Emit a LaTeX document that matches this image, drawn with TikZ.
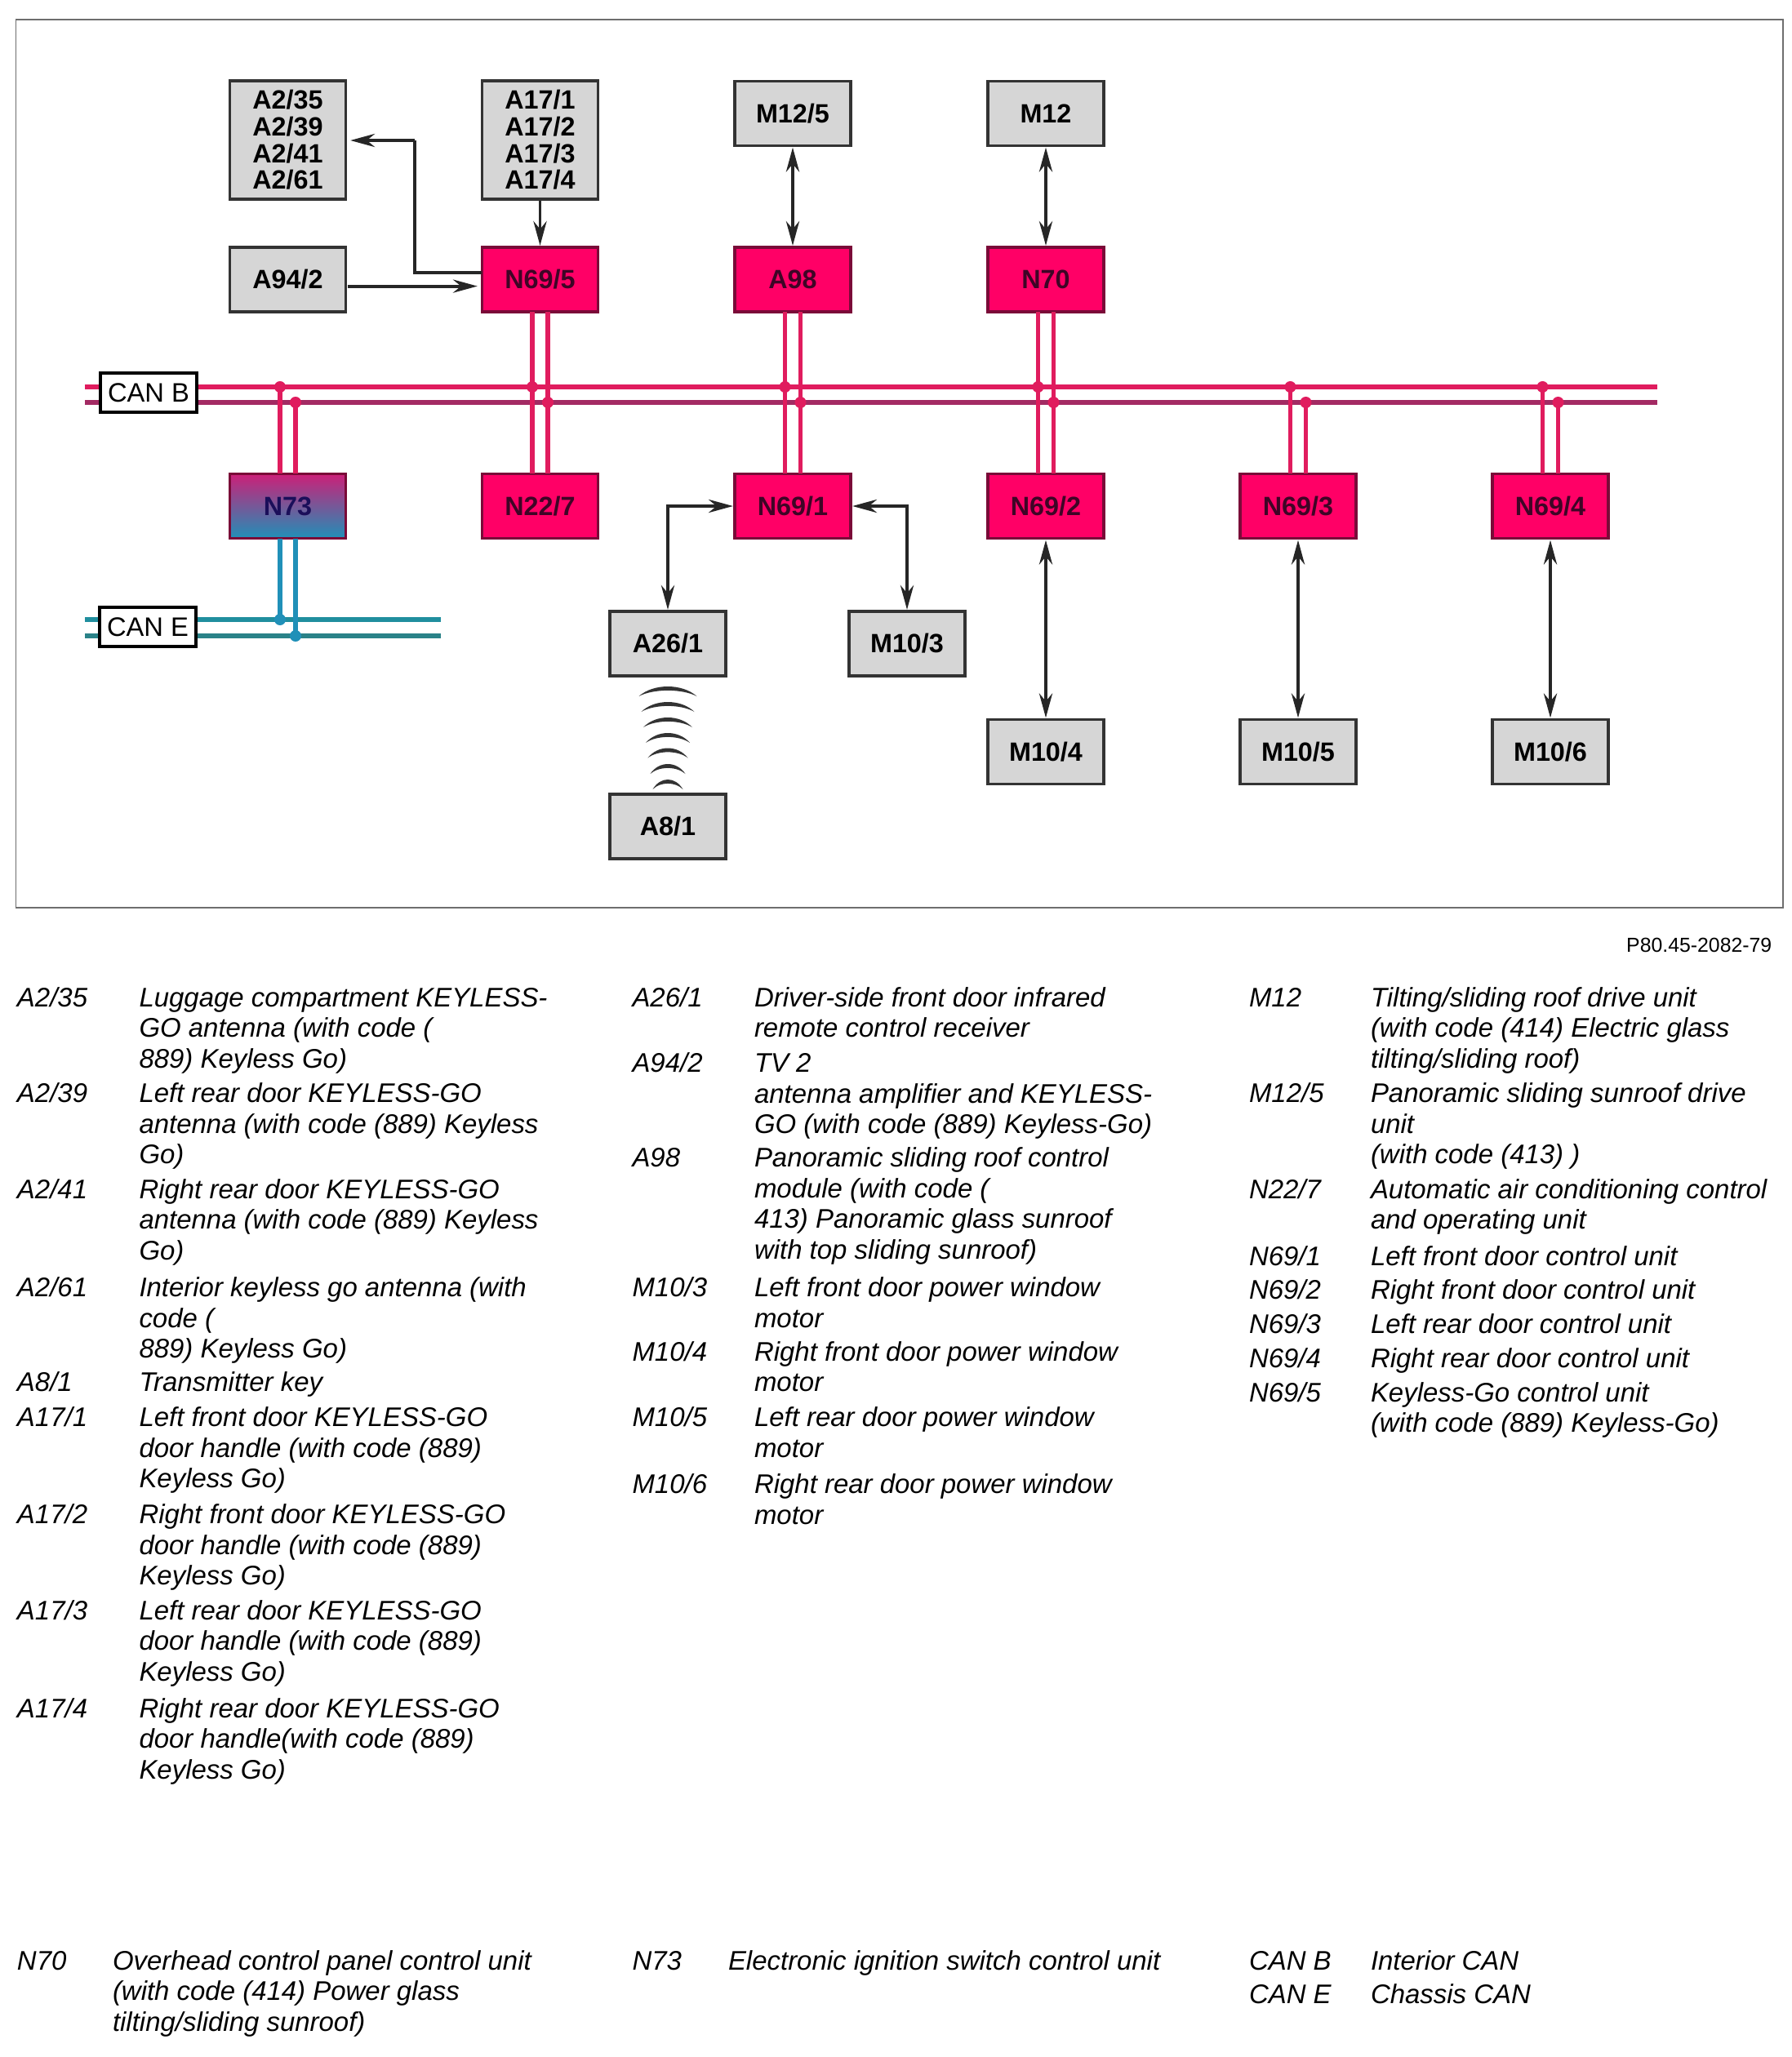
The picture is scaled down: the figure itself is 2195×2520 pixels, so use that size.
\documentclass[tikz,border=0pt]{standalone}
\usepackage{fontspec}
\usepackage{tikz}
\usetikzlibrary{arrows.meta,positioning}
\setmainfont{Liberation Sans}
\definecolor{framegray}{HTML}{6E6E6E}
\definecolor{boxgray}{HTML}{D6D6D6}
\definecolor{boxline}{HTML}{333333}
\definecolor{unitred}{HTML}{FF0066}
\definecolor{unitline}{HTML}{7A0A38}
\definecolor{unittext}{HTML}{3E0526}
\definecolor{canbone}{HTML}{E01C5E}
\definecolor{canbtwo}{HTML}{A32A63}
\definecolor{canetop}{HTML}{CC2078}
\definecolor{canedrop}{HTML}{2090B8}
\definecolor{caneone}{HTML}{208E9E}
\definecolor{canetwo}{HTML}{2A8288}
\definecolor{navytext}{HTML}{1B0F5A}
\newcommand{\wireoff}{2.7pt}
% key x, text x, first baseline, name, key, text
\newcommand{\legrow}[6]{%
  \node[legtext] (#4key) at (#1,#3) {\strut #5};
  \node[legtext] (#4txt) at (#2,#3) {\strut #6};
}
\tikzset{
  unitbox/.style={draw, line width=1.1pt, minimum width=142*0.2845pt, minimum height=79*0.2845pt,
    inner sep=0pt, outer sep=0pt, font=\fontsize{9.2}{9.3}\selectfont\bfseries, align=center},
  graybox/.style={unitbox, draw=boxline, fill=boxgray, text=black},
  tallbox/.style={graybox, minimum height=145*0.2845pt},
  redbox/.style={unitbox, draw=unitline, fill=unitred, text=unittext},
  canlabel/.style={draw=black, fill=white, line width=1pt, minimum width=118*0.2845pt, minimum height=48*0.2845pt,
    inner sep=0pt, outer sep=0pt, font=\fontsize{9.3}{10}\selectfont},
  sigline/.style={draw=black!85, line width=1.1pt, >={Stealth[length=8.5pt,width=4.6pt]}, shorten >=0.6pt, shorten <=0.6pt},
  canbwire/.style={draw=canbone, line width=1.5pt},
  legtext/.style={anchor=north west, inner sep=0pt, outer sep=0pt, yshift=7.47pt, align=left,
    font=\fontsize{9.37}{10.7}\selectfont\itshape},
}

\begin{document}
\begin{tikzpicture}[x=0.01cm, y=-0.01cm]
  \useasboundingbox (0,0) rectangle (2195,2520);
  \draw[framegray, line width=0.5pt] (19.5,24) rectangle (2184,1112);

  % buses
  \coordinate (canbwa) at (104,474);
  \coordinate (canbea) at (2030,474);
  \coordinate (canbwb) at (104,493);
  \coordinate (canbeb) at (2030,493);
  \coordinate (canewa) at (104,759);
  \coordinate (caneea) at (540,759);
  \coordinate (canewb) at (104,779);
  \coordinate (caneeb) at (540,779);
  \draw[canbone, line width=1.5pt] (canbwa) -- (canbea);
  \draw[canbtwo, line width=1.9pt] (canbwb) -- (canbeb);
  \draw[caneone, line width=1.5pt] (canewa) -- (caneea);
  \draw[canetwo, line width=1.9pt] (canewb) -- (caneeb);
  \node[canlabel] (canb) at (182,481) {CAN B};
  \node[canlabel] (cane) at (181,768) {CAN E};

  % grey units
  \node[tallbox] (a2) at (352.5,171.5) {A2/35\\A2/39\\A2/41\\A2/61};
  \node[tallbox] (a17) at (661.5,171.5) {A17/1\\A17/2\\A17/3\\A17/4};
  \node[graybox] (m125) at (971,139) {M12/5};
  \node[graybox] (m12) at (1281,139) {M12};
  \node[graybox] (a942) at (352.5,342.5) {A94/2};
  \node[graybox] (a261) at (818,788.5) {A26/1};
  \node[graybox] (m103) at (1111,788.5) {M10/3};
  \node[graybox] (m104) at (1281,921) {M10/4};
  \node[graybox] (m105) at (1590,921) {M10/5};
  \node[graybox] (m106) at (1899,921) {M10/6};
  \node[graybox] (a81) at (818,1012.5) {A8/1};

  % red units
  \node[redbox] (n695) at (661.5,342.5) {N69/5};
  \node[redbox] (a98) at (971,342.5) {A98};
  \node[redbox] (n70) at (1281,342.5) {N70};
  \node[redbox] (n227) at (661.5,620) {N22/7};
  \node[redbox] (n691) at (971,620) {N69/1};
  \node[redbox] (n692) at (1281,620) {N69/2};
  \node[redbox] (n693) at (1590,620) {N69/3};
  \node[redbox] (n694) at (1899,620) {N69/4};
  \node[unitbox, draw=unitline, top color=canetop, bottom color=canedrop, text=navytext] (n73) at (352.5,620) {N73};

  % wires to the buses
  \foreach \upper/\lower in {n695/n227, a98/n691, n70/n692} {
    \draw[canbwire] ([xshift=-\wireoff]\upper.south) -- ([xshift=-\wireoff]\lower.north);
    \draw[canbwire] ([xshift=\wireoff]\upper.south) -- ([xshift=\wireoff]\lower.north);
  }
  \foreach \unit in {n73, n693, n694} {
    \draw[canbwire] ([xshift=-\wireoff]\unit.north) -- ([xshift=-\wireoff]\unit.north |- canbwa);
    \draw[canbwire] ([xshift=\wireoff]\unit.north) -- ([xshift=\wireoff]\unit.north |- canbwb);
  }
  \foreach \unit in {n73, n695, a98, n70, n693, n694} {
    \fill[canbone] ([xshift=-\wireoff]\unit.north |- canbwa) circle (2pt);
    \fill[canbone] ([xshift=\wireoff]\unit.north |- canbwb) circle (2pt);
  }
  \draw[canedrop, line width=1.5pt] ([xshift=-\wireoff]n73.south) -- ([xshift=-\wireoff]n73.south |- canewa);
  \draw[canedrop, line width=1.5pt] ([xshift=\wireoff]n73.south) -- ([xshift=\wireoff]n73.south |- canewb);
  \fill[canedrop] ([xshift=-\wireoff]n73.south |- canewa) circle (2pt);
  \fill[canedrop] ([xshift=\wireoff]n73.south |- canewb) circle (2pt);

  % signal arrows
  \coordinate (a2knee) at (508,172);
  \draw[sigline,->] (a17) -- (n695);
  \draw[sigline, shorten <=0pt, shorten >=0pt] ([yshift=2.4pt]n695.west) -| (a2knee);
  \draw[sigline,->, shorten >=1.6pt, shorten <=0pt] (a2knee) -- (a2knee -| a2.east);
  \draw[sigline,->, shorten >=1.6pt] ([yshift=-2.3pt]a942.east) -- ([yshift=-2.3pt]n695.west);
  \draw[sigline,<->] (m125) -- (a98);
  \draw[sigline,<->] (m12) -- (n70);
  \draw[sigline,<->] (n691.west) -| (a261.north);
  \draw[sigline,<->] (n691.east) -| (m103.north);
  \draw[sigline,<->] (n692) -- (m104);
  \draw[sigline,<->] (n693) -- (m105);
  \draw[sigline,<->] (n694) -- (m106);

  % radio link
  \foreach \top/\w in {841/71, 860/65, 879/60, 898/54, 916.5/49, 936/43, 955/37} {
    \fill[black!80] ({818-\w/2},{\top+12}) .. controls ({818-\w/4},{\top-4}) and ({818+\w/4},{\top-4}) .. ({818+\w/2},{\top+12})
      .. controls ({818+\w/4},{\top+2.5}) and ({818-\w/4},{\top+2.5}) .. cycle;
  }

  \node[anchor=east, inner sep=0pt, font=\fontsize{7.06}{8}\selectfont] (figno) at (2171,1158) {P80.45-2082-79};

  % legend
  \legrow{21}{170.5}{1233}{la235}{A2/35}{Luggage compartment KEYLESS-\\GO antenna (with code (\\889) Keyless Go)}
  \legrow{21}{170.5}{1350.5}{la239}{A2/39}{Left rear door KEYLESS-GO\\antenna (with code (889) Keyless\\Go)}
  \legrow{21}{170.5}{1468}{la241}{A2/41}{Right rear door KEYLESS-GO\\antenna (with code (889) Keyless\\Go)}
  \legrow{21}{170.5}{1588.5}{la261}{A2/61}{Interior keyless go antenna (with\\code (\\889) Keyless Go)}
  \legrow{21}{170.5}{1704}{la81}{A8/1}{Transmitter key}
  \legrow{21}{170.5}{1747.5}{la171}{A17/1}{Left front door KEYLESS-GO\\door handle (with code (889)\\Keyless Go)}
  \legrow{21}{170.5}{1866.5}{la172}{A17/2}{Right front door KEYLESS-GO\\door handle (with code (889)\\Keyless Go)}
  \legrow{21}{170.5}{1984}{la173}{A17/3}{Left rear door KEYLESS-GO\\door handle (with code (889)\\Keyless Go)}
  \legrow{21}{170.5}{2104}{la174}{A17/4}{Right rear door KEYLESS-GO\\door handle(with code (889)\\Keyless Go)}

  \legrow{774.5}{924}{1233}{la261b}{A26/1}{Driver-side front door infrared\\remote control receiver}
  \legrow{774.5}{924}{1313.5}{la942}{A94/2}{TV 2\\antenna amplifier and KEYLESS-\\GO (with code (889) Keyless-Go)}
  \legrow{774.5}{924}{1429.5}{la98}{A98}{Panoramic sliding roof control\\module (with code (\\413) Panoramic glass sunroof\\with top sliding sunroof)}
  \legrow{774.5}{924}{1588.5}{lm103}{M10/3}{Left front door power window\\motor}
  \legrow{774.5}{924}{1667}{lm104}{M10/4}{Right front door power window\\motor}
  \legrow{774.5}{924}{1747.5}{lm105}{M10/5}{Left rear door power window\\motor}
  \legrow{774.5}{924}{1829.5}{lm106}{M10/6}{Right rear door power window\\motor}

  \legrow{1530}{1679}{1233}{lm12}{M12}{Tilting/sliding roof drive unit\\(with code (414) Electric glass\\tilting/sliding roof)}
  \legrow{1530}{1679}{1350.5}{lm125}{M12/5}{Panoramic sliding sunroof drive\\unit\\(with code (413) )}
  \legrow{1530}{1679}{1468}{ln227}{N22/7}{Automatic air conditioning control\\and operating unit}
  \legrow{1530}{1679}{1550}{ln691}{N69/1}{Left front door control unit}
  \legrow{1530}{1679}{1591.5}{ln692}{N69/2}{Right front door control unit}
  \legrow{1530}{1679}{1633.5}{ln693}{N69/3}{Left rear door control unit}
  \legrow{1530}{1679}{1675}{ln694}{N69/4}{Right rear door control unit}
  \legrow{1530}{1679}{1717}{ln695}{N69/5}{Keyless-Go control unit\\(with code (889) Keyless-Go)}

  \legrow{21}{138}{2413}{ln70}{N70}{Overhead control panel control unit\\(with code (414) Power glass\\tilting/sliding sunroof)}
  \legrow{774.5}{892}{2413}{ln73}{N73}{Electronic ignition switch control unit}
  \legrow{1530}{1679}{2413}{lcanb}{CAN B}{Interior CAN}
  \legrow{1530}{1679}{2454.5}{lcane}{CAN E}{Chassis CAN}
\end{tikzpicture}
\end{document}
